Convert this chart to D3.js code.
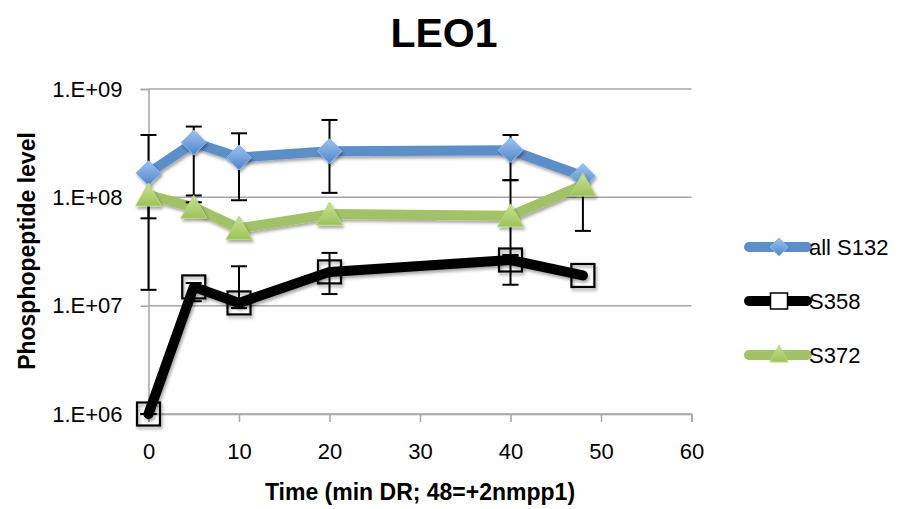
<!DOCTYPE html>
<html><head><meta charset="utf-8">
<script src="https://cdn.jsdelivr.net/npm/d3@7/dist/d3.min.js"></script>
<style>body{margin:0;background:#fff}svg{display:block}text{font-family:"Liberation Sans",Arial,sans-serif}</style>
</head><body><svg id="c" width="897" height="509"></svg>
<script>
const times = [0, 5, 10, 20, 40, 48];
const seriesNames = ["all S132", "S358", "S372"];
const allS132 = [1.67e8, 3.2e8, 2.33e8, 2.67e8, 2.72e8, 1.57e8];
const allS132Hi = [3.76e8, 4.5e8, 3.9e8, 5.18e8, 3.76e8, null];
const allS132Lo = [6.4e7, 1.04e8, 0.94e8, 1.1e8, 1.44e8, null];
const s358 = [1.0e6, 1.49e7, 1.06e7, 2.05e7, 2.64e7, 1.9e7];
const s358Hi = [1.0e6, 1.62e7, 2.31e7, 3.07e7, 2.94e7, null];
const s358Lo = [1.0e6, 1.1e7, 0.95e7, 1.28e7, 1.56e7, null];
const s372 = [1.05e8, 0.81e8, 0.517e8, 0.70e8, 0.675e8, 1.3e8];
const s372Hi = [1.6e8, 0.9e8, null, null, 1.44e8, null];
const s372Lo = [1.4e7, 0.73e8, null, null, 2.9e7, 4.9e7];
const xTicks = [0, 10, 20, 30, 40, 50, 60];
const yTicks = [1e6, 1e7, 1e8, 1e9];

const svg = d3.select("#c");
const defs = svg.append("defs");
const f = defs.append("filter").attr("id","sh").attr("x","-50%").attr("y","-50%").attr("width","200%").attr("height","200%");
f.append("feDropShadow").attr("dx",1.5).attr("dy",2.5).attr("stdDeviation",1.6).attr("flood-color","#000").attr("flood-opacity",0.35);
const gb = defs.append("linearGradient").attr("id","gBlue").attr("x1",0).attr("y1",0).attr("x2",0).attr("y2",1);
gb.append("stop").attr("offset","0%").attr("stop-color","#9cc3f0");
gb.append("stop").attr("offset","100%").attr("stop-color","#4f86cc");
const gg = defs.append("linearGradient").attr("id","gGreen").attr("x1",0).attr("y1",0).attr("x2",0).attr("y2",1);
gg.append("stop").attr("offset","0%").attr("stop-color","#c9e38f");
gg.append("stop").attr("offset","100%").attr("stop-color","#9cc25a");

const x = d3.scaleLinear().domain([0, 60]).range([148.5, 691.5]);
const y = d3.scaleLog().domain([1e6, 1e9]).range([414, 89]);

// gridlines
svg.append("g").selectAll("line").data(yTicks).join("line")
  .attr("x1", x(0)).attr("x2", x(60)).attr("y1", d=>y(d)).attr("y2", d=>y(d))
  .attr("stroke", "#a6a6a6").attr("stroke-width", 1.5);

// axes
const fmt = d => "1.E+" + String(Math.round(Math.log10(d))).padStart(2, "0");
const yAxis = svg.append("g").attr("transform", `translate(${x(0)},0)`)
  .call(d3.axisLeft(y).tickValues(yTicks).tickFormat(fmt).tickSize(8).tickPadding(18));
const xAxis = svg.append("g").attr("transform", `translate(0,${y(1e6)})`)
  .call(d3.axisBottom(x).tickValues(xTicks).tickFormat(d3.format("d")).tickSize(8).tickPadding(21));
[yAxis, xAxis].forEach(a => {
  a.select(".domain").attr("stroke", "#a6a6a6").attr("stroke-width", 1.5);
  a.selectAll(".tick line").attr("stroke", "#a6a6a6").attr("stroke-width", 1.5);
  a.selectAll(".tick text").attr("fill", "#000").style("font-size", "22px").style("font-family", '"Liberation Sans",Arial,sans-serif');
});

const series = [
  {name: seriesNames[0], vals: allS132, hi: allS132Hi, lo: allS132Lo, color: "#5b8fc9", marker: "diamond"},
  {name: seriesNames[1], vals: s358, hi: s358Hi, lo: s358Lo, color: "#000000", marker: "square"},
  {name: seriesNames[2], vals: s372, hi: s372Hi, lo: s372Lo, color: "#a2c266", marker: "triangle"}
];

const line = d3.line().x(d => x(d[0])).y(d => y(d[1]));
// lines
series.forEach(s => {
  svg.append("path").datum(times.map((t, i) => [t, s.vals[i]]))
    .attr("d", line).attr("fill", "none").attr("stroke", s.color).attr("stroke-width", 10)
    .attr("stroke-linejoin", "round").attr("stroke-linecap", "round").attr("filter", "url(#sh)");
});

// error bars
const eb = svg.append("g").attr("stroke", "#000").attr("stroke-width", 2);
series.forEach(s => {
  times.forEach((t, i) => {
    const v = s.vals[i], hi = s.hi[i], lo = s.lo[i];
    if (hi == null && lo == null) return;
    const top = hi == null ? v : hi, bot = lo == null ? v : lo;
    const cx = x(t);
    eb.append("line").attr("x1", cx).attr("x2", cx).attr("y1", y(top)).attr("y2", y(bot));
    if (hi != null) eb.append("line").attr("x1", cx - 8).attr("x2", cx + 8).attr("y1", y(hi)).attr("y2", y(hi));
    if (lo != null) eb.append("line").attr("x1", cx - 8).attr("x2", cx + 8).attr("y1", y(lo)).attr("y2", y(lo));
  });
});

function drawMarker(g, type, cx, cy) {
  if (type === "diamond") {
    g.append("path").attr("d", `M${cx},${cy-12.5}L${cx+12.5},${cy}L${cx},${cy+12.5}L${cx-12.5},${cy}Z`)
      .attr("fill", "url(#gBlue)").attr("stroke", "#86b4ea").attr("stroke-width", 1).attr("filter", "url(#sh)");
  } else if (type === "square") {
    g.append("rect").attr("x", cx - 11.5).attr("y", cy - 11.5).attr("width", 23).attr("height", 23)
      .attr("fill", "none").attr("stroke", "#000").attr("stroke-width", 2.2).attr("filter", "url(#sh)");
  } else {
    g.append("path").attr("d", `M${cx},${cy-12}L${cx+13},${cy+11}L${cx-13},${cy+11}Z`)
      .attr("fill", "url(#gGreen)").attr("stroke", "#b8d87c").attr("stroke-width", 1).attr("filter", "url(#sh)");
  }
}
series.forEach(s => {
  const g = svg.append("g");
  times.forEach((t, i) => drawMarker(g, s.marker, x(t), y(s.vals[i])));
});

// legend
const legY = [247, 301, 355];
series.forEach((s, i) => {
  const g = svg.append("g");
  g.append("line").attr("x1", 749).attr("x2", 807).attr("y1", legY[i]).attr("y2", legY[i])
    .attr("stroke", s.color).attr("stroke-width", 10).attr("stroke-linecap", "round");
  const mg = g.append("g");
  if (s.marker === "diamond") {
    mg.append("path").attr("d", `M779,${legY[i]-9}L788,${legY[i]}L779,${legY[i]+9}L770,${legY[i]}Z`).attr("fill", "url(#gBlue)").attr("stroke","#86b4ea");
  } else if (s.marker === "square") {
    mg.append("rect").attr("x", 770.5).attr("y", legY[i] - 8).attr("width", 17).attr("height", 16).attr("fill", "#fff").attr("stroke", "#000").attr("stroke-width", 1.5);
  } else {
    mg.append("path").attr("d", `M779,${legY[i]-10}L788,${legY[i]+7}L770,${legY[i]+7}Z`).attr("fill", "url(#gGreen)").attr("stroke","#b8d87c");
  }
  g.append("text").attr("x", 809).attr("y", legY[i] + 8).text(s.name).style("font-size", "22px").attr("fill", "#000");
});

// titles
svg.append("text").attr("x", 444).attr("y", 47).attr("text-anchor", "middle")
  .style("font-size", "41px").style("font-weight", "bold").text("LEO1");
svg.append("text").attr("transform", "translate(35,251) rotate(-90)").attr("text-anchor", "middle")
  .style("font-size", "23px").style("font-weight", "bold").text("Phosphopeptide level");
svg.append("text").attr("x", 420).attr("y", 500).attr("text-anchor", "middle")
  .style("font-size", "23px").style("font-weight", "bold").text("Time (min DR; 48=+2nmpp1)");
</script></body></html>
